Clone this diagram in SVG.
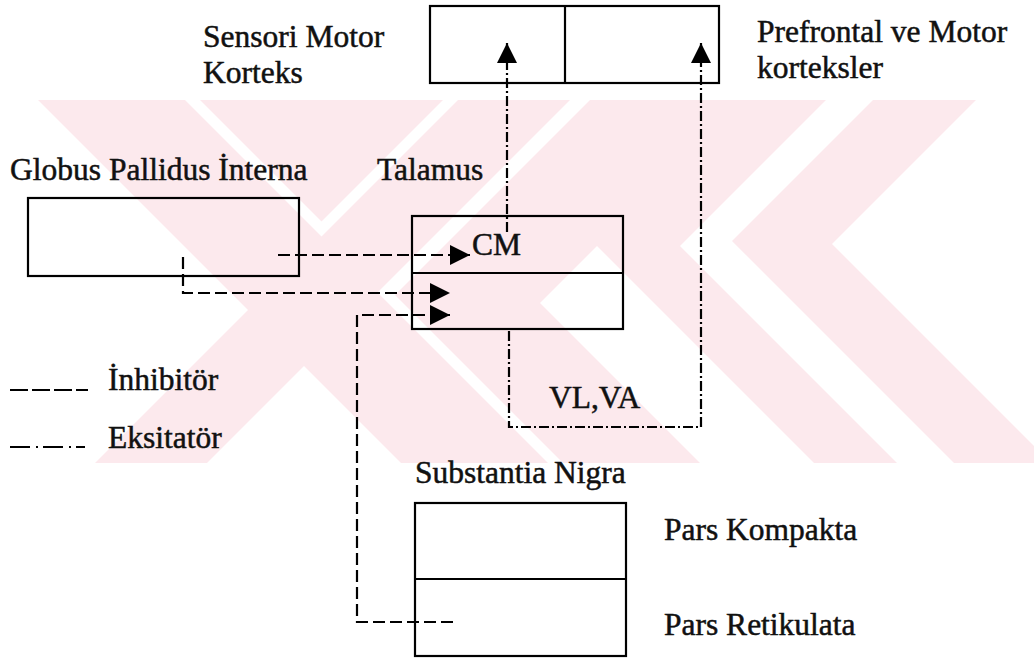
<svg xmlns="http://www.w3.org/2000/svg" width="1034" height="659" viewBox="0 0 1034 659">
<style>
text{font-family:"Liberation Serif","Times New Roman",serif;font-size:31.5px;fill:#111;stroke:#111;stroke-width:0.5}
.box{fill:none;stroke:#000;stroke-width:2.2}
.inh{fill:none;stroke:#000;stroke-width:2.2;stroke-dasharray:12 5}
.exc{fill:none;stroke:#000;stroke-width:2.2;stroke-dasharray:10 3 2 3}
.wm{fill:#fce9ed}
.wmw{fill:#fff}
</style>
<defs>
<marker id="ah" viewBox="0 0 20 20" markerWidth="20" markerHeight="21" refX="20" refY="10" orient="auto" markerUnits="userSpaceOnUse">
<path d="M0,0 L20,10 L0,20 z" fill="#000"/>
</marker>
</defs>
<rect width="1034" height="659" fill="#fff"/>
<g id="watermark">
<rect class="wm" x="0" y="100" width="1034" height="363"/>
<polygon class="wmw" points="0,100 38,100 248,310 95,463 0,463"/>
<polygon class="wmw" points="304,366 401,463 207,463"/>
<polygon class="wmw" points="185,100 200,100 321.5,221.5 443,100 458,100 321.5,236.5"/>
<polygon class="wmw" points="570,100 590,100 395,295 563,463 548,463 377.5,292.5"/>
<polygon class="wmw" points="540,303 597,246 814,463 700,463"/>
<polygon class="wmw" points="826,100 873,100 732,241 954,463 897,463 680,246"/>
<polygon class="wmw" points="976,100 1034,100 1034,446 832,244"/>
</g>
<g id="sensori-prefrontal">
<rect class="box" x="430" y="6" width="289" height="77"/>
<line class="box" x1="565" y1="6" x2="565" y2="83"/>
<text x="203" y="47">Sensori Motor</text>
<text x="203" y="83">Korteks</text>
<text x="757" y="42">Prefrontal ve Motor</text>
<text x="757" y="78">korteksler</text>
</g>
<g id="globus">
<rect class="box" x="28" y="198" width="271" height="78"/>
<text x="10" y="180">Globus Pallidus İnterna</text>
</g>
<g id="talamus">
<rect class="box" x="412" y="216" width="211" height="113"/>
<line class="box" x1="412" y1="273" x2="623" y2="273"/>
<text x="377" y="180">Talamus</text>
<text x="472" y="255">CM</text>
<text x="549" y="408">VL,VA</text>
</g>
<g id="substantia">
<rect class="box" x="415" y="503" width="211" height="153"/>
<line class="box" x1="415" y1="579" x2="626" y2="579"/>
<text x="415" y="483">Substantia Nigra</text>
<text x="664" y="540">Pars Kompakta</text>
<text x="664" y="635">Pars Retikulata</text>
</g>
<g id="legend">
<line x1="10" y1="390" x2="88" y2="390" stroke="#000" stroke-width="2.2" stroke-dasharray="18 4"/>
<text x="108" y="390">İnhibitör</text>
<line x1="10" y1="447" x2="85" y2="447" stroke="#000" stroke-width="2.2" stroke-dasharray="20 6 2 5"/>
<text x="108" y="448">Eksitatör</text>
</g>
<g id="connectors">
<path class="inh" d="M278,255 H470" marker-end="url(#ah)"/>
<path class="inh" d="M183,257 V293 H450" marker-end="url(#ah)"/>
<path class="inh" d="M453,622 H357 V315 H450" marker-end="url(#ah)"/>
<path class="exc" d="M507,232 V43" marker-end="url(#ah)"/>
<path class="exc" d="M509,331 V427 H701 V43" marker-end="url(#ah)"/>
</g>
</svg>
